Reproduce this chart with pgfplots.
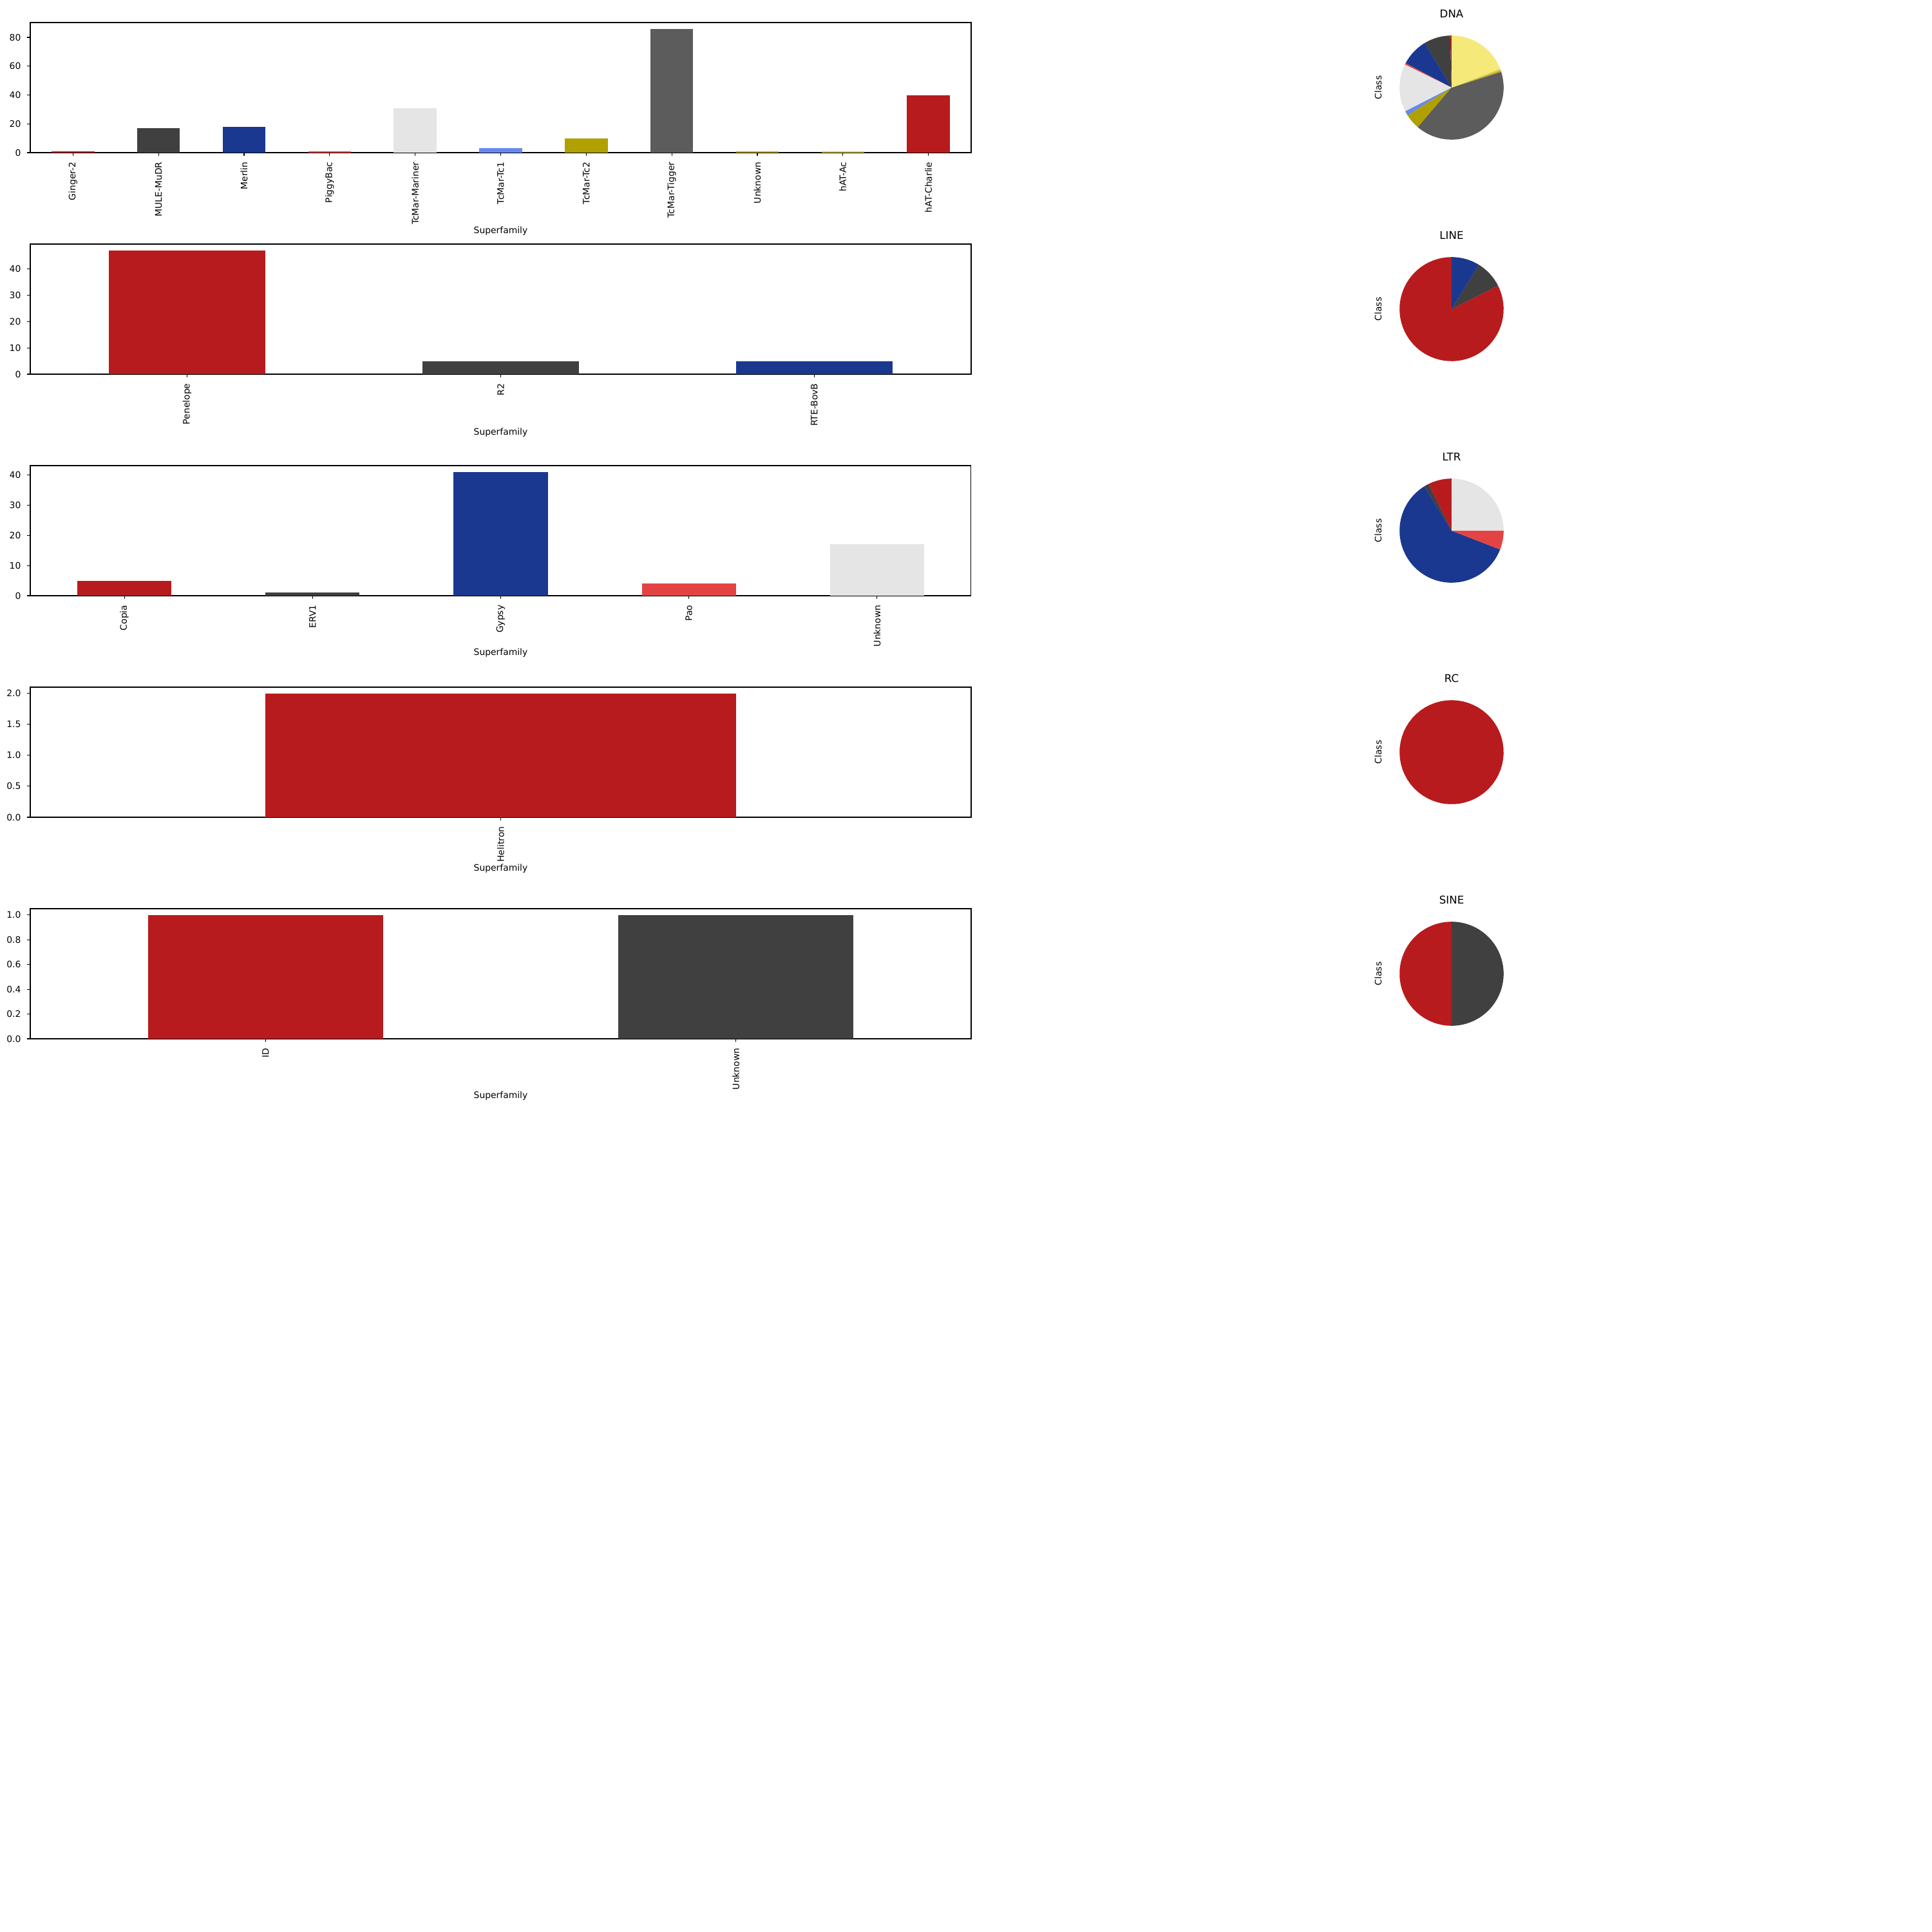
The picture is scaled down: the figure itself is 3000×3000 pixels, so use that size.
\documentclass[border=0pt]{standalone}
\usepackage{fontspec}
\setmainfont{DejaVu Sans}
\usepackage{pgfplots}
\pgfplotsset{compat=1.18}
\definecolor{cRed}{HTML}{B81B1D}
\definecolor{cDark}{HTML}{404040}
\definecolor{cBlue}{HTML}{1A388F}
\definecolor{cLRed}{HTML}{E44343}
\definecolor{cLGray}{HTML}{E5E5E5}
\definecolor{cLBlue}{HTML}{6789EE}
\definecolor{cOlive}{HTML}{B0A000}
\definecolor{cGray}{HTML}{5C5C5C}
\definecolor{cUnk}{HTML}{BFA81E}
\definecolor{cHat}{HTML}{DCC84A}
\definecolor{cPale}{HTML}{F5E97A}

\newcommand\bars[1]{%
  \foreach \val/\col [count=\i from 0] in {#1}{%
    \edef\temp{\noexpand\addplot[ybar, bar width=0.5, fill=\col, draw=none] coordinates {(\i,\val)};}%
    \temp}}
\newcommand\pie[1]{%
  \gdef\pietot{0}%
  \foreach \val/\col in {#1}{\pgfmathsetmacro\tmp{\pietot+\val}\xdef\pietot{\tmp}}%
  \xdef\pieang{90}%
  \foreach \val/\col in {#1}{%
    \pgfmathsetmacro\pieend{\pieang+\val/\pietot*360}%
    \edef\temp{\noexpand\addplot[fill=\col, draw=none, domain=\pieang:\pieend, samples=60, variable=\noexpand\t] ({cos(\noexpand\t)},{sin(\noexpand\t)}) -- (axis cs:0,0) -- cycle;}%
    \temp
    \xdef\pieang{\pieend}%
  }%
}

\pgfplotsset{
  baraxis/.style={
    scale only axis, width=1051.92pt, height=145.44pt, anchor=north west,
    enlargelimits=false, ymin=0,
    axis line style={line width=0.8pt, black},
    tick style={line width=0.8pt, black},
    major tick length=3.5pt, tick align=outside, tick pos=left,
    xticklabel style={rotate=90, anchor=east, font=\fontsize{10}{12}\selectfont},
    yticklabel style={font=\fontsize{10}{12}\selectfont},
    xticklabel shift=3.5pt, yticklabel shift=3.5pt,
    label style={font=\fontsize{10}{12}\selectfont},
    xlabel style={yshift=4.5pt},
    xlabel={Superfamily},
    /pgf/number format/assume math mode=true,
  },
  pieaxis/.style={
    scale only axis, width=145.44pt, height=145.44pt, anchor=center,
    xmin=-1.25, xmax=1.25, ymin=-1.25, ymax=1.25, hide axis, clip=false,
  },
}

\begin{document}
\begin{tikzpicture}[x=0.72pt, y=-0.72pt]
\fill[white] (0,0) rectangle (3000,3000);
\path[use as bounding box] (0,0) rectangle (3000,3000);

% ---------- DNA ----------
\begin{axis}[baraxis, at={(33.84pt,-25.2pt)}, xmin=-0.5, xmax=10.5, ymax=90.3,
  xtick={0,...,10}, ytick={0,20,40,60,80},
  xticklabels={Ginger-2,MULE-MuDR,Merlin,PiggyBac,TcMar-Mariner,TcMar-Tc1,TcMar-Tc2,TcMar-Tigger,Unknown,hAT-Ac,hAT-Charlie}]
\bars{1/cRed,17/cDark,18/cBlue,1/cLRed,31/cLGray,3/cLBlue,10/cOlive,86/cGray,1/cUnk,1/cHat,40/cRed}
\end{axis}
\begin{axis}[pieaxis, at={(1622.88pt,-97.92pt)}]
\pie{1/cRed,17/cDark,18/cBlue,1/cLRed,31/cLGray,3/cLBlue,10/cOlive,86/cGray,1/cUnk,1/cHat,40/cPale}
\end{axis}

% ---------- LINE ----------
\begin{axis}[baraxis, at={(33.84pt,-272.88pt)}, xmin=-0.5, xmax=2.5, ymax=49.35,
  xtick={0,1,2}, ytick={0,10,20,30,40},
  xticklabels={Penelope,R2,RTE-BovB}]
\bars{47/cRed,5/cDark,5/cBlue}
\end{axis}
\begin{axis}[pieaxis, at={(1622.88pt,-345.6pt)}]
\pie{47/cRed,5/cDark,5/cBlue}
\end{axis}

% ---------- LTR ----------
\begin{axis}[baraxis, at={(33.84pt,-520.56pt)}, xmin=-0.5, xmax=4.5, ymax=43.05,
  xtick={0,...,4}, ytick={0,10,20,30,40},
  xticklabels={Copia,ERV1,Gypsy,Pao,Unknown}]
\bars{5/cRed,1/cDark,41/cBlue,4/cLRed,17/cLGray}
\end{axis}
\begin{axis}[pieaxis, at={(1622.88pt,-593.28pt)}]
\pie{5/cRed,1/cDark,41/cBlue,4/cLRed,17/cLGray}
\end{axis}

% ---------- RC ----------
\begin{axis}[baraxis, at={(33.84pt,-768.24pt)}, xmin=-0.5, xmax=0.5, ymax=2.1,
  xtick={0}, ytick={0,0.5,1,1.5,2},
  yticklabel style={/pgf/number format/.cd, fixed, fixed zerofill, precision=1},
  xticklabels={Helitron}]
\bars{2/cRed}
\end{axis}
\begin{axis}[pieaxis, at={(1622.88pt,-840.96pt)}]
\pie{2/cRed}
\end{axis}

% ---------- SINE ----------
\begin{axis}[baraxis, at={(33.84pt,-1015.92pt)}, xmin=-0.5, xmax=1.5, ymax=1.05,
  xtick={0,1}, ytick={0,0.2,0.4,0.6,0.8,1},
  yticklabel style={/pgf/number format/.cd, fixed, fixed zerofill, precision=1},
  xticklabels={ID,Unknown}]
\bars{1/cRed,1/cDark}
\end{axis}
\begin{axis}[pieaxis, at={(1622.88pt,-1088.64pt)}]
\pie{1/cRed,1/cDark}
\end{axis}

% titles and labels of the pies
\foreach \t/\yb/\yc in {DNA/27.3/136, LINE/371.3/480, LTR/715.3/824, RC/1059.3/1168, SINE/1403.3/1512}{
  \node[anchor=base, inner sep=0pt, font=\fontsize{12}{14}\selectfont] at (2254,\yb) {\t};
  \node[rotate=90, inner sep=0pt, font=\fontsize{10}{12}\selectfont] at (2140,\yc) {Class};
}
\end{tikzpicture}
\end{document}
